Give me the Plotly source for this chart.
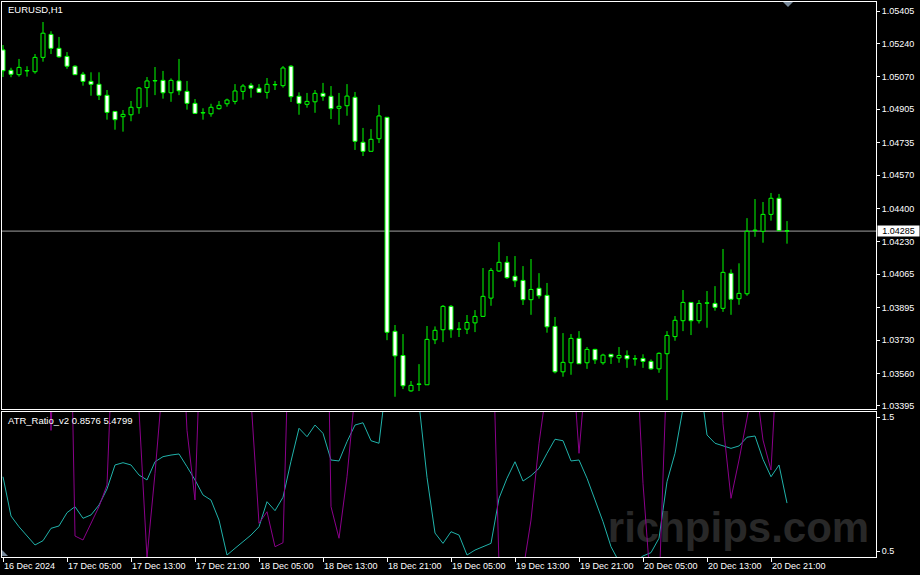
import plotly.graph_objects as go
import pandas as pd

# ---------------- data ----------------
bar_times = pd.date_range("2024-12-16 21:00", periods=99, freq="h")

open_ = [1.05207, 1.05103, 1.05081, 1.05100, 1.05096, 1.05169, 1.05286, 1.05215, 1.05174, 1.05124,
         1.05083, 1.05047, 1.05032, 1.04976, 1.04894, 1.04867, 1.04877, 1.04913, 1.05015, 1.05049,
         1.05052, 1.04989, 1.05049, 1.04996, 1.04935, 1.04886, 1.04882, 1.04908, 1.04933, 1.04945,
         1.04996, 1.05027, 1.05012, 1.04991, 1.05031, 1.05025, 1.05124, 1.04971, 1.04930, 1.04943,
         1.04986, 1.04971, 1.04910, 1.04923, 1.04966, 1.04737, 1.04691, 1.04755, 1.04864, 1.03775,
         1.03652, 1.03472, 1.03505, 1.03503, 1.03732, 1.03783, 1.03902, 1.03785, 1.03786, 1.03818,
         1.03851, 1.03944, 1.04082, 1.04126, 1.04055, 1.04034, 1.03936, 1.03994, 1.03958, 1.03800,
         1.03569, 1.03615, 1.03739, 1.03615, 1.03683, 1.03615, 1.03658, 1.03640, 1.03652, 1.03636,
         1.03637, 1.03622, 1.03584, 1.03661, 1.03748, 1.03829, 1.03922, 1.03829, 1.03918, 1.03917,
         1.03892, 1.04070, 1.03941, 1.03966, 1.04287, 1.04284, 1.04370, 1.04452, 1.04287]
high = [1.05232, 1.05116, 1.05161, 1.05124, 1.05186, 1.05349, 1.05302, 1.05273, 1.05196, 1.05129,
        1.05095, 1.05093, 1.05093, 1.05003, 1.04896, 1.04901, 1.04947, 1.05018, 1.05069, 1.05120,
        1.05100, 1.05062, 1.05161, 1.05049, 1.04957, 1.04910, 1.04933, 1.04947, 1.04959, 1.05033,
        1.05033, 1.05039, 1.05033, 1.05064, 1.05049, 1.05125, 1.05130, 1.04991, 1.04988, 1.05003,
        1.05039, 1.05023, 1.04988, 1.05033, 1.04993, 1.04810, 1.04804, 1.04927, 1.04865, 1.03807,
        1.03761, 1.03522, 1.03608, 1.03802, 1.03800, 1.03909, 1.03909, 1.03822, 1.03858, 1.03883,
        1.04097, 1.04097, 1.04229, 1.04158, 1.04158, 1.04107, 1.04143, 1.04071, 1.04021, 1.03848,
        1.03766, 1.03761, 1.03776, 1.03695, 1.03686, 1.03661, 1.03659, 1.03695, 1.03678, 1.03654,
        1.03658, 1.03632, 1.03668, 1.03776, 1.03853, 1.03985, 1.03924, 1.03934, 1.03980, 1.04005,
        1.04194, 1.04090, 1.04121, 1.04351, 1.04448, 1.04433, 1.04479, 1.04474, 1.04336]
low = [1.05069, 1.05068, 1.05071, 1.05071, 1.05086, 1.05147, 1.05186, 1.05167, 1.05111, 1.05080,
       1.05025, 1.04974, 1.04952, 1.04852, 1.04801, 1.04791, 1.04844, 1.04882, 1.04916, 1.04977,
       1.04959, 1.04943, 1.04977, 1.04903, 1.04882, 1.04852, 1.04867, 1.04903, 1.04918, 1.04930,
       1.04954, 1.04964, 1.04989, 1.04959, 1.05003, 1.05015, 1.04942, 1.04877, 1.04913, 1.04887,
       1.04948, 1.04855, 1.04826, 1.04872, 1.04698, 1.04667, 1.04690, 1.04733, 1.03730, 1.03442,
       1.03481, 1.03467, 1.03471, 1.03502, 1.03710, 1.03720, 1.03742, 1.03746, 1.03761, 1.03771,
       1.03848, 1.03905, 1.04077, 1.04042, 1.04000, 1.03909, 1.03859, 1.03941, 1.03768, 1.03561,
       1.03544, 1.03554, 1.03609, 1.03584, 1.03609, 1.03605, 1.03609, 1.03615, 1.03589, 1.03600,
       1.03589, 1.03579, 1.03564, 1.03425, 1.03727, 1.03776, 1.03756, 1.03815, 1.03793, 1.03880,
       1.03874, 1.03859, 1.03910, 1.03956, 1.04256, 1.04226, 1.04338, 1.04286, 1.04221]
close = [1.05101, 1.05083, 1.05118, 1.05102, 1.05169, 1.05292, 1.05215, 1.05172, 1.05124, 1.05081,
         1.05047, 1.05032, 1.04976, 1.04889, 1.04852, 1.04879, 1.04915, 1.05013, 1.05049, 1.05051,
         1.04989, 1.05052, 1.04999, 1.04935, 1.04884, 1.04888, 1.04915, 1.04925, 1.04952, 1.04998,
         1.05023, 1.05012, 1.04991, 1.05032, 1.05029, 1.05115, 1.04969, 1.04935, 1.04945, 1.04986,
         1.04971, 1.04908, 1.04920, 1.04972, 1.04742, 1.04691, 1.04752, 1.04871, 1.03770, 1.03650,
         1.03498, 1.03500, 1.03507, 1.03734, 1.03780, 1.03902, 1.03783, 1.03787, 1.03820, 1.03851,
         1.03953, 1.04085, 1.04126, 1.04048, 1.04032, 1.03936, 1.03988, 1.03956, 1.03798, 1.03569,
         1.03617, 1.03739, 1.03610, 1.03683, 1.03630, 1.03654, 1.03645, 1.03652, 1.03635, 1.03634,
         1.03622, 1.03584, 1.03663, 1.03754, 1.03831, 1.03922, 1.03829, 1.03917, 1.03920, 1.03897,
         1.04075, 1.03938, 1.03968, 1.04284, 1.04290, 1.04370, 1.04452, 1.04287, 1.04285]

atr_ratio_line1 = [1.054, 0.761, 0.681, 0.612, 0.545, 0.577, 0.669, 0.687, 0.786, 0.831,
                   0.744, 0.769, 0.843, 0.963, 1.142, 1.159, 1.142, 1.067, 1.030, 1.166,
                   1.204, 1.216, 1.224, 1.129, 1.030, 0.918, 0.880, 0.731, 0.470, 0.520,
                   0.570, 0.619, 0.681, 0.868, 0.801, 0.901, 1.170, 1.416, 1.353, 1.440,
                   1.378, 1.179, 1.172, 1.316, 1.440, 1.457, 1.323, 1.304, 1.800, 2.200,
                   2.100, 1.900, 1.600, 1.050, 0.634, 0.557, 0.644, 0.619, 0.470, 0.507,
                   0.532, 0.557, 0.893, 1.043, 1.166, 1.022, 1.062, 1.117, 1.229, 1.334,
                   1.323, 1.172, 1.179, 1.043, 0.881, 0.719, 0.532, 0.420, 0.400, 0.420,
                   0.463, 0.488, 0.595, 1.017, 1.229, 1.540, 1.900, 1.820, 1.366, 1.304,
                   1.284, 1.266, 1.284, 1.349, 1.358, 1.184, 1.054, 1.142, 0.8576]
atr_ratio_line2 = [3.0, 3.2, 3.4, 3.5, 3.2, 3.5, 1.40, 3.0, 3.8, 0.612,
                   0.582, 0.707, 0.831, 0.993, 2.5, 3.0, 3.0, 1.55, 0.45, 1.08,
                   1.85, 2.5, 2.6, 1.40, 0.881, 2.6, 3.0, 3.2, 3.5, 3.2,
                   3.0, 1.63, 0.707, 0.793, 0.532, 0.562, 2.7, 3.5, 3.8, 4.0,
                   4.3, 0.831, 0.595, 1.054, 1.68, 3.5, 4.0, 4.5, 5.0, 5.5,
                   5.2, 5.0, 4.8, 4.6, 4.4, 4.2, 4.0, 3.8, 3.6, 3.4,
                   3.2, 2.6, 0.40, 0.30, 0.28, 0.35, 0.731, 1.304, 1.9, 2.5,
                   2.6, 2.09, 1.229, 1.94, 2.5, 3.0, 3.2, 3.0, 2.8, 2.2,
                   1.005, 0.20, 0.20, 1.9, 2.8, 3.2, 3.5, 3.6, 3.4, 3.0,
                   1.45, 0.893, 1.179, 1.52, 1.8, 1.328, 1.104, 2.2, 5.4799]

price_ticks = [1.05405, 1.05240, 1.05070, 1.04905, 1.04735, 1.04570, 1.04400,
               1.04230, 1.04065, 1.03895, 1.03730, 1.03560, 1.03395]
indicator_ticks = [0.5, 1.5]
time_tick_labels = ["16 Dec 2024", "17 Dec 05:00", "17 Dec 13:00", "17 Dec 21:00",
                    "18 Dec 05:00", "18 Dec 13:00", "18 Dec 21:00", "19 Dec 05:00",
                    "19 Dec 13:00", "19 Dec 21:00", "20 Dec 05:00", "20 Dec 13:00",
                    "20 Dec 21:00"]
time_tick_bars = list(range(0, 99, 8))

# ---------------- styling ----------------
GREEN = "#00FF00"
FONT = "Liberation Sans"
W, H = 920, 575
ML, MR, MT, MB = 2, 44, 2, 18
plot_w = W - ML - MR
plot_h = H - MT - MB


def py(px):  # pixel row -> paper y
    return (H - MB - px) / plot_h


def pxx(px):  # pixel col -> paper x
    return (px - ML) / plot_w


bar_td = pd.Timedelta(hours=1)
x_range = [bar_times[0] - bar_td * 0.125, bar_times[0] + bar_td * 109.125]
main_range = [1.033797, 1.054508]
ind_range = [0.45522, 1.53731]

body_base = [min(o, c) for o, c in zip(open_, close)]
body_h = [abs(c - o) for o, c in zip(open_, close)]
body_fill = ["#000000" if c >= o else "#FFFFFF" for o, c in zip(open_, close)]

wx, wy = [], []
for t, o, h, l, c in zip(bar_times, open_, high, low, close):
    top, bot = max(o, c), min(o, c)
    if h > top:
        wx += [t, t, None]
        wy += [top, h, None]
    if l < bot:
        wx += [t, t, None]
        wy += [bot, l, None]

fig = go.Figure()

# watermark (under indicator lines)
fig.add_trace(go.Scatter(
    x=[bar_times[0] + bar_td * 91.94], y=[0.645], mode="text", text=["richpips.com"],
    textfont=dict(family=FONT, size=42, color="#282828", weight="bold"),
    xaxis="x2", yaxis="y2", cliponaxis=False, hoverinfo="skip", showlegend=False))

fig.add_trace(go.Scatter(x=wx, y=wy, mode="lines", line=dict(color=GREEN, width=1),
                         xaxis="x", yaxis="y", hoverinfo="skip", showlegend=False))
fig.add_trace(go.Bar(x=bar_times, y=body_h, base=body_base, width=bar_td.total_seconds() * 1000 * 0.5,
                     marker=dict(color=body_fill, line=dict(color=GREEN, width=1)),
                     xaxis="x", yaxis="y", hoverinfo="skip", showlegend=False))

fig.add_trace(go.Scatter(x=bar_times, y=atr_ratio_line1, mode="lines",
                         line=dict(color="#20B2AA", width=1), xaxis="x2", yaxis="y2",
                         hoverinfo="skip", showlegend=False))
fig.add_trace(go.Scatter(x=bar_times, y=atr_ratio_line2, mode="lines",
                         line=dict(color="#8B008B", width=1), xaxis="x2", yaxis="y2",
                         hoverinfo="skip", showlegend=False))

axis_common = dict(showgrid=False, zeroline=False, showline=True, mirror=True,
                   linecolor="white", linewidth=1)
tickfont = dict(family=FONT, size=9, color="white")

fig.update_layout(
    width=W, height=H, margin=dict(l=ML, r=MR, t=MT, b=MB),
    paper_bgcolor="black", plot_bgcolor="black", showlegend=False,
    bargap=0,
    xaxis=dict(domain=[0, 1], anchor="y", type="date", range=x_range,
               showticklabels=False, ticks="", **axis_common),
    xaxis2=dict(domain=[0, 1], anchor="y2", type="date", range=x_range, matches="x",
                tickvals=[bar_times[i] for i in time_tick_bars], ticktext=time_tick_labels,
                ticks="outside", ticklen=4, tickcolor="white", tickfont=tickfont,
                ticklabelposition="outside right", **axis_common),
    yaxis=dict(domain=[py(409), 1], anchor="x", range=main_range, side="right",
               tickvals=price_ticks, ticktext=[f"{v:.5f}" for v in price_ticks],
               ticks="outside", ticklen=3, tickcolor="white", tickfont=tickfont,
               **axis_common),
    yaxis2=dict(domain=[0, py(412)], anchor="x2", range=ind_range, side="right",
                tickvals=indicator_ticks, ticktext=[f"{v:g}" for v in indicator_ticks],
                ticks="outside", ticklen=3, tickcolor="white", tickfont=tickfont,
                **axis_common),
)

last_price = close[-1]
fig.add_shape(type="line", xref="x domain", x0=0, x1=1, yref="y", y0=last_price, y1=last_price,
              line=dict(color="#A0A0A0", width=1), layer="below")

# chart-shift marker and corner marker
fig.add_shape(type="path", xref="paper", yref="paper",
              path=f"M {pxx(783)},{py(2)} L {pxx(793)},{py(2)} L {pxx(788)},{py(7)} Z",
              fillcolor="#778899", line=dict(width=0))
fig.add_shape(type="path", xref="paper", yref="paper",
              path=f"M {pxx(2)},{py(550)} L {pxx(2)},{py(556)} L {pxx(8)},{py(556)} Z",
              fillcolor="#778899", line=dict(width=0))

fig.add_annotation(x=1, xref="paper", xanchor="left", xshift=1, y=last_price, yref="y",
                   text=f"{last_price:.5f}", showarrow=False, bgcolor="white",
                   font=dict(family=FONT, size=9, color="black"), width=41, borderpad=0)
fig.add_annotation(x=pxx(6), xref="paper", xanchor="left", y=py(10), yref="paper",
                   yanchor="middle", text="EURUSD,H1", showarrow=False,
                   font=dict(family=FONT, size=9.5, color="white"))
fig.add_annotation(x=pxx(6), xref="paper", xanchor="left", y=py(420), yref="paper",
                   yanchor="middle",
                   text=f"ATR_Ratio_v2 {atr_ratio_line1[-1]:.4f} {atr_ratio_line2[-1]:.4f}",
                   showarrow=False, font=dict(family=FONT, size=9.5, color="white"))

fig.write_html("out.html", config={"displayModeBar": False, "staticPlot": True},
               post_script="document.body.style.margin='0';document.body.style.overflow='hidden';")
